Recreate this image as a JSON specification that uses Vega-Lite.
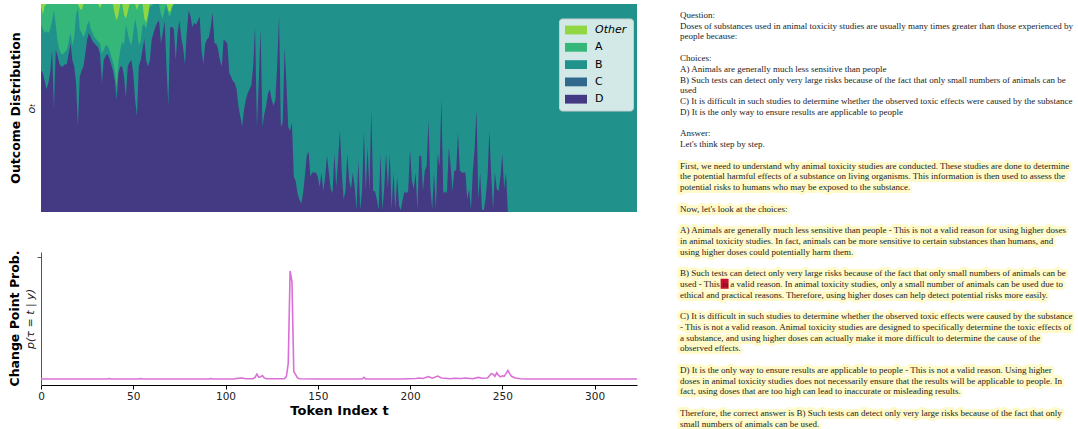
{
"$schema": "https://vega.github.io/schema/vega-lite/v6.json",
"padding": {"left": 8, "top": 4, "right": 0, "bottom": 0},
"background": "white",
"config": {"view": {"stroke": null}, "font": "DejaVu Sans"},
"datasets": {
"dist": [
{"t":0,"d":0.68,"b":0.90,"o":0.99},{"t":1,"d":0.67,"b":0.88,"o":0.95},{"t":2,"d":0.63,"b":0.86,"o":0.99},{"t":3,"d":0.59,"b":0.87,"o":1},{"t":4,"d":0.62,"b":0.86,"o":1},{"t":5,"d":0.67,"b":0.88,"o":1},{"t":6,"d":0.78,"b":0.92,"o":1},{"t":7,"d":0.49,"b":0.97,"o":1},{"t":8,"d":0.78,"b":0.90,"o":1},{"t":9,"d":0.75,"b":0.82,"o":1},
{"t":10,"d":0.71,"b":0.78,"o":1},{"t":11,"d":0.70,"b":0.76,"o":1},{"t":12,"d":0.70,"b":0.76,"o":1},{"t":13,"d":0.71,"b":0.77,"o":1},{"t":14,"d":0.71,"b":0.78,"o":1},{"t":15,"d":0.76,"b":0.82,"o":1},{"t":16,"d":0.81,"b":0.86,"o":1},{"t":17,"d":0.73,"b":0.80,"o":1},{"t":18,"d":0.70,"b":0.84,"o":1},{"t":19,"d":0.62,"b":0.95,"o":1},
{"t":20,"d":0.41,"b":0.98,"o":1},{"t":21,"d":0.65,"b":0.88,"o":0.98},{"t":22,"d":0.68,"b":0.86,"o":0.97},{"t":23,"d":0.70,"b":0.84,"o":1},{"t":24,"d":0.76,"b":0.86,"o":1},{"t":25,"d":0.83,"b":0.90,"o":1},{"t":26,"d":0.86,"b":0.92,"o":1},{"t":27,"d":0.84,"b":0.88,"o":1},{"t":28,"d":0.82,"b":0.86,"o":1},{"t":29,"d":0.81,"b":0.84,"o":1},
{"t":30,"d":0.80,"b":0.83,"o":1},{"t":31,"d":0.79,"b":0.82,"o":1},{"t":32,"d":0.76,"b":0.81,"o":0.98},{"t":33,"d":0.62,"b":0.76,"o":1},{"t":34,"d":0.73,"b":0.78,"o":1},{"t":35,"d":0.75,"b":0.80,"o":1},{"t":36,"d":0.76,"b":0.80,"o":1},{"t":37,"d":0.74,"b":0.78,"o":1},{"t":38,"d":0.71,"b":0.75,"o":1},{"t":39,"d":0.68,"b":0.72,"o":1},
{"t":40,"d":0.63,"b":0.68,"o":0.95},{"t":41,"d":0.54,"b":0.60,"o":0.92},{"t":42,"d":0.67,"b":0.72,"o":0.95},{"t":43,"d":0.70,"b":0.78,"o":1},{"t":44,"d":0.70,"b":0.82,"o":1},{"t":45,"d":0.65,"b":0.80,"o":0.95},{"t":46,"d":0.55,"b":0.90,"o":0.93},{"t":47,"d":0.70,"b":0.86,"o":0.96},{"t":48,"d":0.72,"b":0.82,"o":1},{"t":49,"d":0.73,"b":0.80,"o":1},
{"t":50,"d":0.67,"b":0.86,"o":1},{"t":51,"d":0.54,"b":0.93,"o":1},{"t":52,"d":0.46,"b":0.88,"o":0.97},{"t":53,"d":0.70,"b":0.80,"o":1},{"t":54,"d":0.73,"b":0.82,"o":1},{"t":55,"d":0.78,"b":0.90,"o":1},{"t":56,"d":0.83,"b":0.90,"o":0.93},{"t":57,"d":0.73,"b":0.88,"o":0.91},{"t":58,"d":0.70,"b":0.93,"o":0.95},{"t":59,"d":0.73,"b":0.99,"o":1},
{"t":60,"d":0.83,"b":0.99,"o":1},{"t":61,"d":0.86,"b":1,"o":1},{"t":62,"d":0.89,"b":1,"o":1},{"t":63,"d":0.91,"b":1,"o":1},{"t":64,"d":0.92,"b":1,"o":1},{"t":65,"d":0.81,"b":0.95,"o":1},{"t":66,"d":0.86,"b":0.93,"o":1},{"t":67,"d":0.92,"b":0.97,"o":1},{"t":68,"d":0.70,"b":1,"o":1},{"t":69,"d":0.51,"b":0.95,"o":0.97},
{"t":70,"d":0.89,"b":0.94,"o":0.96},{"t":71,"d":0.89,"b":0.98,"o":0.99},{"t":72,"d":0.88,"b":1,"o":1},{"t":73,"d":0.73,"b":1,"o":1},{"t":74,"d":0.86},{"t":75,"d":0.92},{"t":76,"d":0.84},{"t":77,"d":0.79},{"t":78,"d":0.71},{"t":79,"d":0.86},
{"t":80,"d":0.97},{"t":81,"d":0.94},{"t":82,"d":0.89},{"t":83,"d":0.91},{"t":84,"d":0.90},{"t":85,"d":0.92},{"t":86,"d":0.94},{"t":87,"d":0.78},{"t":88,"d":0.71},{"t":89,"d":0.81},
{"t":90,"d":0.83},{"t":91,"d":0.84},{"t":92,"d":0.89},{"t":93,"d":0.96},{"t":94,"d":0.81},{"t":95,"d":0.81},{"t":96,"d":0.78},{"t":97,"d":0.73},{"t":98,"d":0.70},{"t":99,"d":0.83},
{"t":100,"d":0.82},{"t":101,"d":0.81},{"t":102,"d":0.67},{"t":103,"d":0.65},{"t":104,"d":0.63},{"t":105,"d":0.62},{"t":106,"d":0.59},{"t":107,"d":0.51},{"t":108,"d":0.46},{"t":109,"d":0.41},
{"t":110,"d":0.49},{"t":111,"d":0.54},{"t":112,"d":0.57},{"t":113,"d":0.59},{"t":114,"d":0.61},{"t":115,"d":0.70},{"t":116,"d":0.89},{"t":117,"d":0.41},{"t":118,"d":0.62},{"t":119,"d":0.88},
{"t":120,"d":0.41},{"t":121,"d":0.47},{"t":122,"d":0.51},{"t":123,"d":0.57},{"t":124,"d":0.59},{"t":125,"d":0.54},{"t":126,"d":0.51},{"t":127,"d":0.54},{"t":128,"d":0.70},{"t":129,"d":0.94},
{"t":130,"d":0.41},{"t":131,"d":0.43},{"t":132,"d":0.79},{"t":133,"d":0.62},{"t":134,"d":0.41},{"t":135,"d":0.39},{"t":136,"d":0.43},{"t":137,"d":0.17},{"t":138,"d":0.15},{"t":139,"d":0.09},
{"t":140,"d":0.06},{"t":141,"d":0.04},{"t":142,"d":0.09},{"t":143,"d":0.17},{"t":144,"d":0.27},{"t":145,"d":0.29},{"t":146,"d":0.17},{"t":147,"d":0.19},{"t":148,"d":0.19},{"t":149,"d":0.19},
{"t":150,"d":0.17},{"t":151,"d":0.12},{"t":152,"d":0.19},{"t":153,"d":0.10},{"t":154,"d":0.17},{"t":155,"d":0.27},{"t":156,"d":0.19},{"t":157,"d":0.11},{"t":158,"d":0.09},{"t":159,"d":0.28},
{"t":160,"d":0.12},{"t":161,"d":0.25},{"t":162,"d":0.39},{"t":163,"d":0.19},{"t":164,"d":0.06},{"t":165,"d":0.10},{"t":166,"d":0.28},{"t":167,"d":0.15},{"t":168,"d":0.11},{"t":169,"d":0.19},
{"t":170,"d":0.12},{"t":171,"d":0.01},{"t":172,"d":0.25},{"t":173,"d":0.01},{"t":174,"d":0.10},{"t":175,"d":0.39},{"t":176,"d":0.10},{"t":177,"d":0.31},{"t":178,"d":0.10},{"t":179,"d":0.49},
{"t":180,"d":0.10},{"t":181,"d":0.10},{"t":182,"d":0.06},{"t":183,"d":0.01},{"t":184,"d":0.28},{"t":185,"d":0.01},{"t":186,"d":0.11},{"t":187,"d":0.28},{"t":188,"d":0.11},{"t":189,"d":0.28},
{"t":190,"d":0.01},{"t":191,"d":0.19},{"t":192,"d":0.01},{"t":193,"d":0.17},{"t":194,"d":0.03},{"t":195,"d":0.01},{"t":196,"d":0.06},{"t":197,"d":0.10},{"t":198,"d":0.09},{"t":199,"d":0.10},
{"t":200,"d":0.30},{"t":201,"d":0.15},{"t":202,"d":0.11},{"t":203,"d":0.19},{"t":204,"d":0.01},{"t":205,"d":0.27},{"t":206,"d":0.27},{"t":207,"d":0.10},{"t":208,"d":0.20},{"t":209,"d":0.22},
{"t":210,"d":0.44},{"t":211,"d":0.12},{"t":212,"d":0.01},{"t":213,"d":0.19},{"t":214,"d":0.01},{"t":215,"d":0.28},{"t":216,"d":0.22},{"t":217,"d":0.54},{"t":218,"d":0.09},{"t":219,"d":0.10},
{"t":220,"d":0.09},{"t":221,"d":0.31},{"t":222,"d":0.22},{"t":223,"d":0.10},{"t":224,"d":0.20},{"t":225,"d":0.20},{"t":226,"d":0.38},{"t":227,"d":0.20},{"t":228,"d":0.19},{"t":229,"d":0.19},
{"t":230,"d":0.19},{"t":231,"d":0.06},{"t":232,"d":0.11},{"t":233,"d":0.01},{"t":234,"d":0.19},{"t":235,"d":0.30},{"t":236,"d":0.49},{"t":237,"d":0.06},{"t":238,"d":0.19},{"t":239,"d":0.01},
{"t":240,"d":0.01},{"t":241,"d":0.07},{"t":242,"d":0.17},{"t":243,"d":0.39},{"t":244,"d":0.17},{"t":245,"d":0.01},{"t":246,"d":0.19},{"t":247,"d":0.11},{"t":248,"d":0.10},{"t":249,"d":0.17},
{"t":250,"d":0.28},{"t":251,"d":0.11},{"t":252,"d":0.19},{"t":253,"d":0},{"t":323,"d":0}
],
"cp": [
{"t":0,"v":0.002},{"t":36,"v":0.002},{"t":37,"v":0.004},{"t":38,"v":0.002},{"t":53,"v":0.002},{"t":54,"v":0.004},{"t":55,"v":0.002},{"t":91,"v":0.002},{"t":92,"v":0.004},{"t":93,"v":0.002},
{"t":104,"v":0.002},{"t":107,"v":0.005},{"t":109,"v":0.006},{"t":111,"v":0.003},{"t":115,"v":0.003},{"t":116,"v":0.008},{"t":117,"v":0.02},{"t":118,"v":0.008},{"t":119,"v":0.01},{"t":120,"v":0.015},{"t":121,"v":0.006},{"t":122,"v":0.003},
{"t":132,"v":0.003},{"t":133,"v":0.012},{"t":134,"v":0.06},{"t":135,"v":0.40},{"t":136,"v":0.36},{"t":137,"v":0.03},{"t":138,"v":0.018},{"t":139,"v":0.006},{"t":140,"v":0.003},{"t":150,"v":0.002},
{"t":174,"v":0.002},{"t":175,"v":0.008},{"t":176,"v":0.002},{"t":195,"v":0.002},{"t":203,"v":0.004},{"t":205,"v":0.006},{"t":207,"v":0.004},{"t":210,"v":0.011},{"t":212,"v":0.005},{"t":215,"v":0.013},{"t":217,"v":0.006},{"t":219,"v":0.005},{"t":222,"v":0.003},{"t":224,"v":0.005},{"t":228,"v":0.004},{"t":230,"v":0.006},{"t":234,"v":0.003},{"t":237,"v":0.008},{"t":239,"v":0.005},{"t":242,"v":0.006},
{"t":244,"v":0.022},{"t":245,"v":0.02},{"t":246,"v":0.012},{"t":247,"v":0.025},{"t":248,"v":0.015},{"t":249,"v":0.01},{"t":250,"v":0.014},{"t":251,"v":0.012},{"t":252,"v":0.022},{"t":253,"v":0.033},{"t":254,"v":0.022},{"t":255,"v":0.012},{"t":257,"v":0.006},{"t":260,"v":0.003},{"t":263,"v":0.002},{"t":323,"v":0.002}
],
"txt": [
{"line":0,"h":0,"s":"Question:"},
{"line":1,"h":0,"s":"Doses of substances used in animal toxicity studies are usually many times greater than those experienced by"},
{"line":2,"h":0,"s":"people because:"},
{"line":4,"h":0,"s":"Choices:"},
{"line":5,"h":0,"s":"A) Animals are generally much less sensitive than people"},
{"line":6,"h":0,"s":"B) Such tests can detect only very large risks because of the fact that only small numbers of animals can be"},
{"line":7,"h":0,"s":"used"},
{"line":8,"h":0,"s":"C) It is difficult in such studies to determine whether the observed toxic effects were caused by the substance"},
{"line":9,"h":0,"s":"D) It is the only way to ensure results are applicable to people"},
{"line":11,"h":0,"s":"Answer:"},
{"line":12,"h":0,"s":"Let's think step by step."},
{"line":14,"h":1,"s":"First, we need to understand why animal toxicity studies are conducted. These studies are done to determine"},
{"line":15,"h":1,"s":"the potential harmful effects of a substance on living organisms. This information is then used to assess the"},
{"line":16,"h":1,"s":"potential risks to humans who may be exposed to the substance."},
{"line":18,"h":1,"s":"Now, let's look at the choices:"},
{"line":20,"h":1,"s":"A) Animals are generally much less sensitive than people - This is not a valid reason for using higher doses"},
{"line":21,"h":1,"s":"in animal toxicity studies. In fact, animals can be more sensitive to certain substances than humans, and"},
{"line":22,"h":1,"s":"using higher doses could potentially harm them."},
{"line":24,"h":1,"s":"B) Such tests can detect only very large risks because of the fact that only small numbers of animals can be"},
{"line":25,"h":1,"s":"used - This is a valid reason. In animal toxicity studies, only a small number of animals can be used due to"},
{"line":26,"h":1,"s":"ethical and practical reasons. Therefore, using higher doses can help detect potential risks more easily."},
{"line":28,"h":1,"s":"C) It is difficult in such studies to determine whether the observed toxic effects were caused by the substance"},
{"line":29,"h":1,"s":"- This is not a valid reason. Animal toxicity studies are designed to specifically determine the toxic effects of"},
{"line":30,"h":1,"s":"a substance, and using higher doses can actually make it more difficult to determine the cause of the"},
{"line":31,"h":1,"s":"observed effects."},
{"line":33,"h":1,"s":"D) It is the only way to ensure results are applicable to people - This is not a valid reason. Using higher"},
{"line":34,"h":1,"s":"doses in animal toxicity studies does not necessarily ensure that the results will be applicable to people. In"},
{"line":35,"h":1,"s":"fact, using doses that are too high can lead to inaccurate or misleading results."},
{"line":37,"h":1,"s":"Therefore, the correct answer is B) Such tests can detect only very large risks because of the fact that only"},
{"line":38,"h":1,"s":"small numbers of animals can be used."}
],
"red": [{"line":25,"col":13,"word":"is"}]
},
"spacing": 39,
"resolve": {"scale": {"x": "independent", "y": "independent", "color": "independent"}},
"hconcat": [
{
"spacing": 38,
"resolve": {"scale": {"x": "independent", "y": "independent"}},
"vconcat": [
{
"width": 596, "height": 208,
"view": {"fill": "#21918c", "stroke": null},
"data": {"name": "dist"},
"title": {"text": "Outcome Distribution", "orient": "left", "font": "DejaVu Sans", "fontSize": 12.5, "fontWeight": "bold", "color": "black", "offset": 3},
"encoding": {"x": {"field": "t", "type": "quantitative", "scale": {"domain": [0, 323], "nice": false, "zero": false}, "axis": null}},
"layer": [
{"mark": {"type": "area", "opacity": 1},
 "encoding": {
  "y": {"field": "d", "type": "quantitative", "stack": null, "scale": {"domain": [0, 1], "nice": false, "zero": false},
        "axis": {"title": "oₜ", "titleFont": "DejaVu Sans", "titleFontStyle": "italic", "titleFontWeight": "normal", "titleFontSize": 11, "titleColor": "#222", "labels": false, "ticks": false, "domain": false, "grid": false, "titlePadding": 5}},
  "color": {"datum": "D", "scale": {"domain": ["Other", "A", "B", "C", "D"], "range": ["#90d743", "#35b779", "#21918c", "#31688e", "#443983"]},
            "legend": {"title": null, "orient": "none", "legendX": 518, "legendY": 14.5, "fillColor": "rgba(255,255,255,0.8)", "strokeColor": "#c8cccc", "cornerRadius": 3, "padding": 6,
                       "symbolType": "M-1,-0.8H3V0.8H-1Z", "symbolSize": 121, "symbolStrokeWidth": 0, "symbolOpacity": 1,
                       "labelFont": "DejaVu Sans", "labelFontSize": 11, "labelColor": "black", "labelOffset": 19, "rowPadding": 5.3,
                       "encode": {"labels": {"update": {"fontStyle": {"signal": "datum.label == 'Other' ? 'italic' : 'normal'"}}}}}}
 }},
{"mark": {"type": "area", "opacity": 1},
 "encoding": {"y": {"field": "b", "type": "quantitative"}, "y2": {"datum": 1}, "color": {"datum": "A"}}},
{"mark": {"type": "area", "opacity": 1},
 "encoding": {"y": {"field": "o", "type": "quantitative"}, "y2": {"datum": 1}, "color": {"datum": "Other"}}}
]
},
{
"width": 596, "height": 133,
"data": {"name": "cp"},
"title": {"text": "Change Point Prob.", "orient": "left", "font": "DejaVu Sans", "fontSize": 12.5, "fontWeight": "bold", "color": "black", "offset": 3},
"mark": {"type": "line", "color": "#da70d6", "strokeWidth": 1.6},
"encoding": {
 "x": {"field": "t", "type": "quantitative", "scale": {"domain": [0, 323], "nice": false, "zero": false},
       "axis": {"values": [0, 50, 100, 150, 200, 250, 300], "title": "Token Index   t", "titleFont": "DejaVu Sans", "titleFontSize": 13, "titleFontWeight": "bold", "titleColor": "black",
                "labelFont": "DejaVu Sans", "labelFontSize": 10.5, "labelColor": "#222", "domainColor": "black", "tickColor": "black", "tickSize": 4, "grid": false, "labelPadding": 2, "titlePadding": 3, "labelFlush": false}},
 "y": {"field": "v", "type": "quantitative", "scale": {"domain": [-0.02, 0.47], "nice": false, "zero": false},
       "axis": {"values": [0.45], "labels": false, "tickSize": 4, "grid": false, "domainColor": "#555", "tickColor": "#555",
                "title": "p(τ = t | y)", "titleFont": "DejaVu Sans", "titleFontStyle": "italic", "titleFontWeight": "normal", "titleFontSize": 11, "titleColor": "#222", "titlePadding": 1}}
}
}
]
},
{
"width": 398, "height": 425,
"layer": [
{"data": {"name": "txt"}, "transform": [{"filter": "datum.h == 1"}],
 "mark": {"type": "text", "align": "left", "baseline": "middle", "font": "Liberation Serif", "fontSize": 9, "fill": "#fffac8", "stroke": "#fffac8", "strokeWidth": 6, "strokeJoin": "round"},
 "encoding": {
  "x": {"datum": 0, "type": "quantitative", "scale": {"domain": [0, 116], "nice": false, "zero": false}, "axis": null},
  "y": {"field": "line", "type": "quantitative", "scale": {"domain": [-1.023, 38.51], "nice": false, "zero": false, "reverse": true}, "axis": null},
  "text": {"field": "s"}}},
{"data": {"name": "red"},
 "mark": {"type": "point", "shape": "M-1,-1.25H1V1.25H-1Z", "size": 64, "filled": true, "opacity": 1, "color": "#c8102e", "strokeWidth": 0},
 "encoding": {
  "x": {"field": "col", "type": "quantitative"},
  "y": {"field": "line", "type": "quantitative"}}},
{"data": {"name": "txt"},
 "mark": {"type": "text", "align": "left", "baseline": "middle", "font": "Liberation Serif", "fontSize": 9, "fill": "#222"},
 "encoding": {
  "x": {"datum": 0, "type": "quantitative"},
  "y": {"field": "line", "type": "quantitative"},
  "text": {"field": "s"}}}
]
}
]
}
